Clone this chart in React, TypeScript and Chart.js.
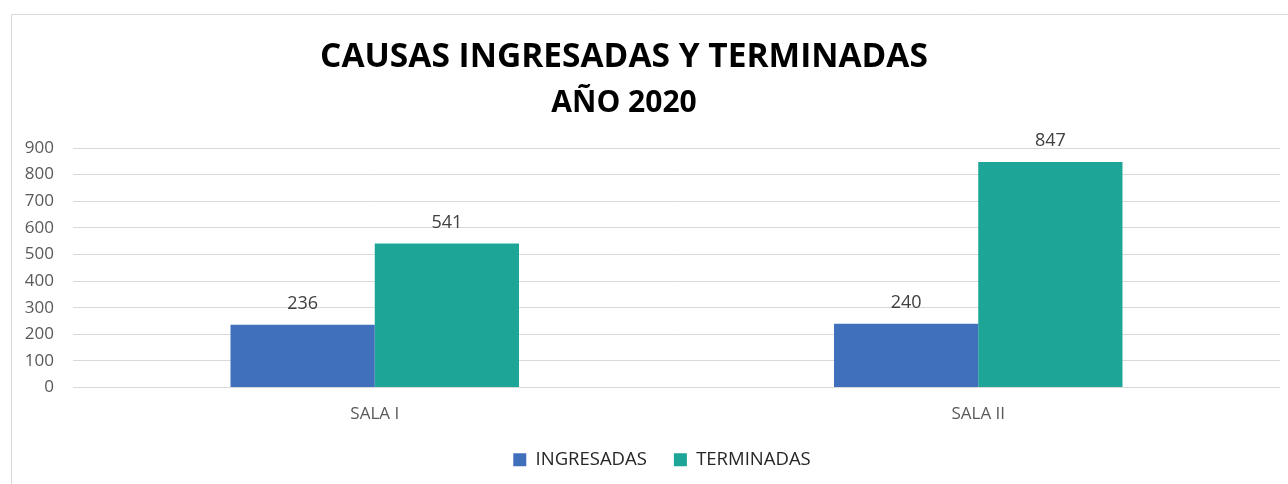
import React, { useEffect, useRef } from "react";
import { Chart, registerables } from "chart.js";

Chart.register(...registerables);

const categories = ["SALA I", "SALA II"];
const ingresadas = [236, 240];
const terminadas = [541, 847];
const seriesNames = ["INGRESADAS", "TERMINADAS"];
const titleLines = ["CAUSAS INGRESADAS Y TERMINADAS", "AÑO 2020"];
const yMin = 0;
const yMax = 900;
const yStep = 100;

const FONT = "'Open Sans', 'Noto Sans', sans-serif";

const borderPlugin = {
  id: "frameBorder",
  beforeDraw(chart: any) {
    const { ctx, width, height } = chart;
    ctx.save();
    ctx.fillStyle = "#ffffff";
    ctx.fillRect(0, 0, width, height);
    ctx.strokeStyle = "#d9d9d9";
    ctx.lineWidth = 1;
    ctx.beginPath();
    ctx.moveTo(11.5, height);
    ctx.lineTo(11.5, 14.5);
    ctx.lineTo(width, 14.5);
    ctx.stroke();
    ctx.restore();
  },
};

// shift the legend block slightly right, as in the reference
const legendShiftPlugin = {
  id: "legendShift",
  afterLayout(chart: any) {
    const lg = chart.legend;
    if (lg) {
      lg.left += 17;
      lg.right += 17;
    }
  },
};

const titlePlugin = {
  id: "twoLineTitle",
  afterDraw(chart: any) {
    const { ctx, width } = chart;
    const cx = width / 2 - 20;
    ctx.save();
    ctx.fillStyle = "#000000";
    ctx.textAlign = "center";
    ctx.textBaseline = "middle";
    ctx.font = `bold 33.5px ${FONT}`;
    ctx.fillText(titleLines[0], cx, 57);
    ctx.font = `bold 30px ${FONT}`;
    ctx.fillText(titleLines[1], cx, 103);
    ctx.restore();
  },
};

const valueLabelPlugin = {
  id: "valueLabels",
  afterDatasetsDraw(chart: any) {
    const { ctx } = chart;
    ctx.save();
    ctx.fillStyle = "#404040";
    ctx.textAlign = "center";
    ctx.textBaseline = "middle";
    ctx.font = `18px ${FONT}`;
    chart.data.datasets.forEach((ds: any, di: number) => {
      const meta = chart.getDatasetMeta(di);
      meta.data.forEach((bar: any, i: number) => {
        ctx.fillText(String(ds.data[i]), bar.x, bar.y - 21);
      });
    });
    ctx.restore();
  },
};

export default function App() {
  const canvasRef = useRef<HTMLCanvasElement | null>(null);

  useEffect(() => {
    if (!canvasRef.current) return;
    const chart = new Chart(canvasRef.current, {
      type: "bar",
      data: {
        labels: categories,
        datasets: [
          {
            label: seriesNames[0],
            data: ingresadas,
            backgroundColor: "#4070BB",
            borderWidth: 0,
            categoryPercentage: 0.478,
            barPercentage: 1.0,
          },
          {
            label: seriesNames[1],
            data: terminadas,
            backgroundColor: "#1DA598",
            borderWidth: 0,
            categoryPercentage: 0.478,
            barPercentage: 1.0,
          },
        ],
      },
      options: {
        responsive: false,
        animation: false,
        layout: { padding: { top: 148, left: 10, right: 8, bottom: 5 } },
        plugins: {
          title: { display: false },
          tooltip: { enabled: false },
          legend: {
            position: "bottom",
            labels: {
              boxWidth: 13,
              boxHeight: 13,
              padding: 27,
              color: "#262626",
              font: { family: FONT, size: 18.5 },
            },
          },
        },
        scales: {
          x: {
            grid: { display: false, drawTicks: false },
            border: { display: false },
            ticks: {
              padding: 16,
              color: "#595959",
              font: { family: FONT, size: 17 },
            },
            afterFit: (scale: any) => {
              scale.height = 36;
            },
          },
          y: {
            min: yMin,
            max: yMax,
            grid: { color: "#d9d9d9", lineWidth: 1, drawTicks: false },
            border: { display: false },
            ticks: {
              stepSize: yStep,
              padding: 19,
              color: "#595959",
              font: { family: FONT, size: 17 },
            },
            afterFit: (scale: any) => {
              scale.width = 63;
            },
          },
        },
      },
      plugins: [borderPlugin, legendShiftPlugin, titlePlugin, valueLabelPlugin],
    });
    return () => chart.destroy();
  }, []);

  return (
    <div style={{ position: "absolute", left: 0, top: 0, width: 1288, height: 484 }}>
      <canvas ref={canvasRef} width={1288} height={484} />
    </div>
  );
}
